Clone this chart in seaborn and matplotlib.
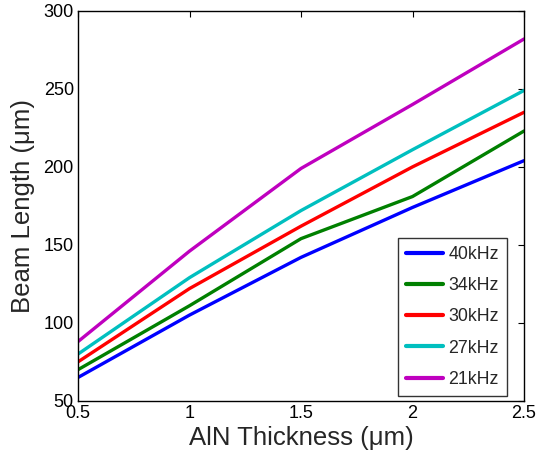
import numpy as np
import pandas as pd
import seaborn as sns
from matplotlib import pyplot as plt

# data
thickness = [0.5, 1.0, 1.5, 2.0, 2.5]
freqs = ["40kHz", "34kHz", "30kHz", "27kHz", "21kHz"]
len_40 = [65, 105, 142, 174, 204]
len_34 = [70, 111, 154, 181, 223]
len_30 = [75, 122, 162, 200, 235]
len_27 = [80, 129, 172, 211, 249]
len_21 = [88, 146, 199, 240, 282]

colors = ["#0000ff", "#008000", "#ff0000", "#00bfbf", "#bf00bf"]

rows = []
for f, vals in zip(freqs, [len_40, len_34, len_30, len_27, len_21]):
    for t, v in zip(thickness, vals):
        rows.append({"thickness": t, "length": v, "freq": f})
df = pd.DataFrame(rows)

sns.set_style("white")
plt.rcParams["font.family"] = ["Liberation Sans", "DejaVu Sans"]

fig = plt.figure(figsize=(5.38, 4.54), dpi=100)
ax = fig.add_axes([0.145, 0.117, 0.829, 0.859])

sns.lineplot(data=df, x="thickness", y="length", hue="freq", hue_order=freqs,
             palette=colors, linewidth=2.4, ax=ax, legend=True)

ax.set_xlim(0.5, 2.5)
ax.set_ylim(50, 300)
ax.set_xticks([0.5, 1, 1.5, 2, 2.5])
ax.set_xticklabels(["0.5", "1", "1.5", "2", "2.5"])
ax.set_yticks([50, 100, 150, 200, 250, 300])
ax.tick_params(direction="in", length=4, width=0.8, labelsize=13,
               top=True, right=True, colors="black", pad=3)
for s in ax.spines.values():
    s.set_color("black")
    s.set_linewidth(1.0)

ax.set_xlabel("AlN Thickness (\u03bcm)", fontsize=18.5, labelpad=3)
ax.set_ylabel("Beam Length (\u03bcm)", fontsize=18.5, labelpad=6)

leg = ax.legend(loc="lower right", fontsize=12.8, frameon=True, fancybox=False,
                edgecolor="black", handlelength=2.1, borderpad=0.45,
                labelspacing=0.8, handletextpad=0.3, borderaxespad=0,
                bbox_to_anchor=(0.962, 0.013))
leg.get_frame().set_linewidth(1.0)
for line in leg.get_lines():
    line.set_linewidth(3)

fig.savefig("out.png", dpi=100)
